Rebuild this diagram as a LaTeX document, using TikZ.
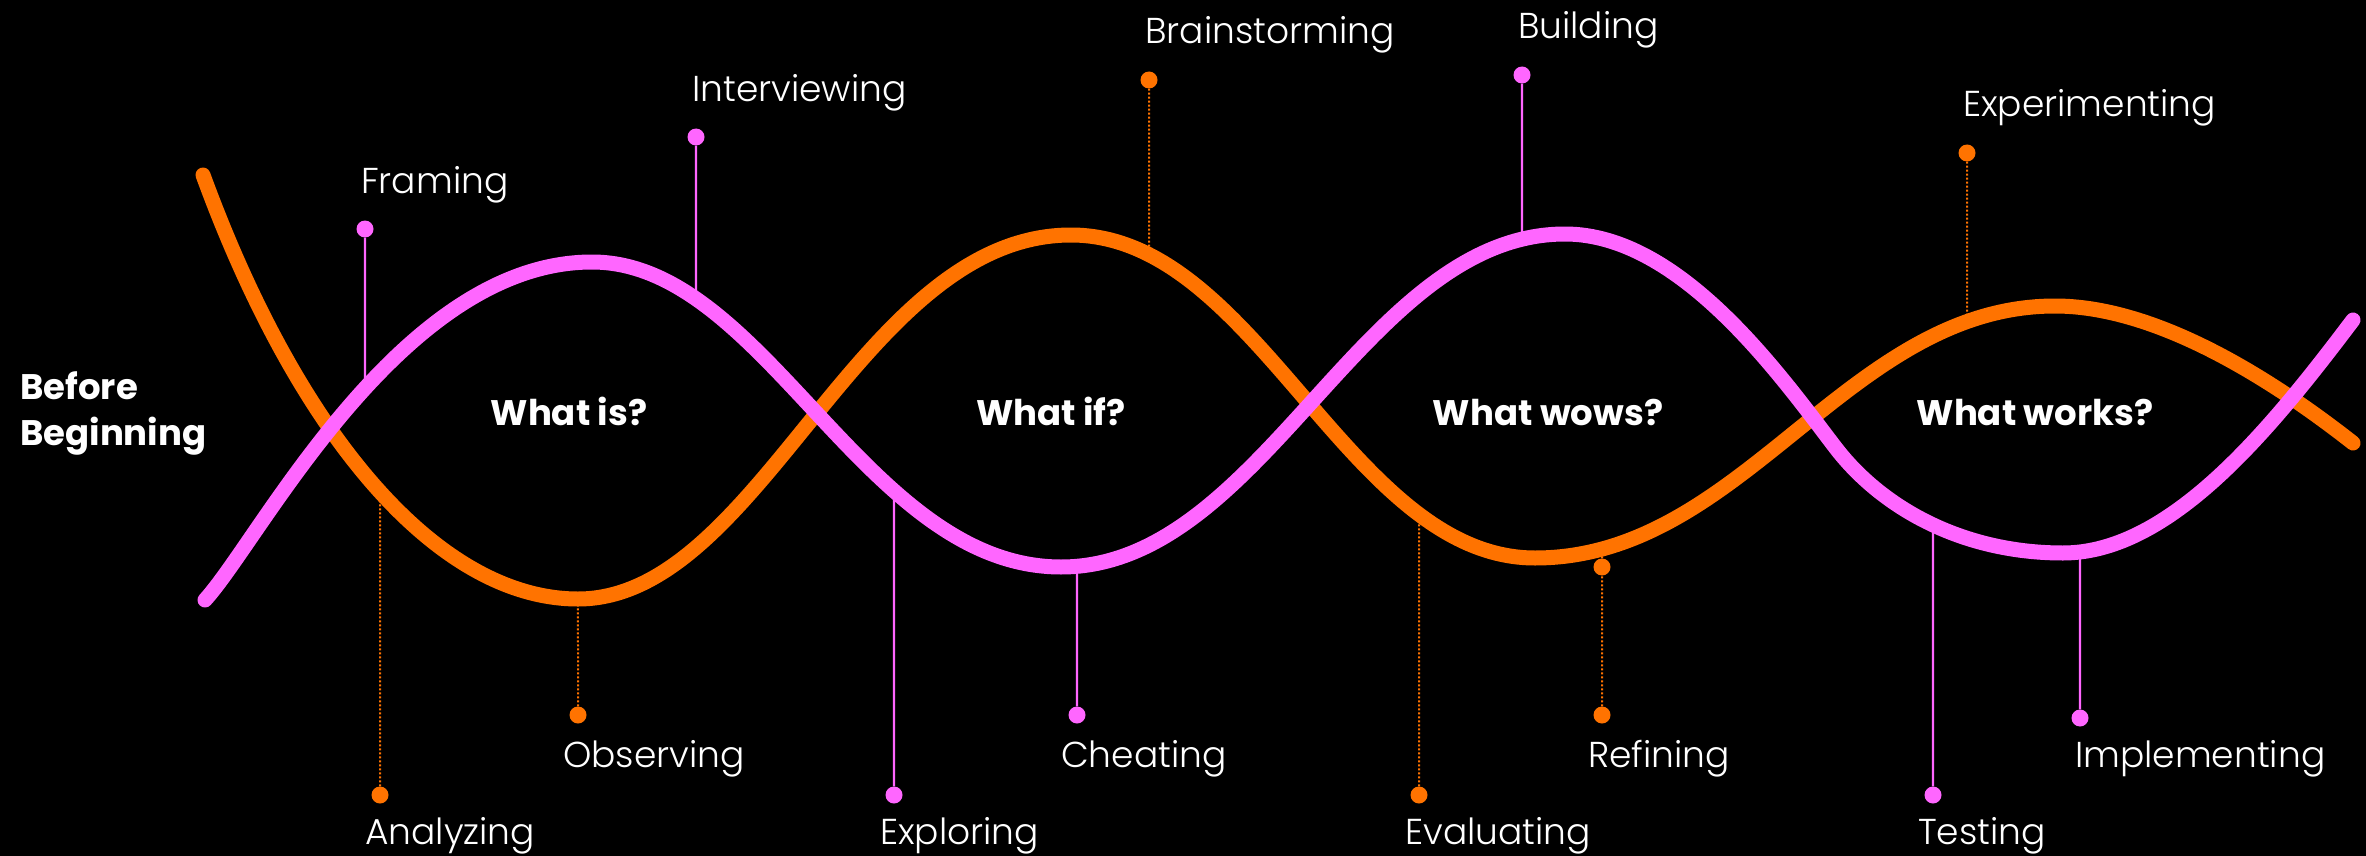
\documentclass[tikz,border=0pt]{standalone}
\usepackage{fontspec}
\usetikzlibrary{intersections}
\newfontfamily\lblfont{Poppins Light}
\newfontfamily\hdgfont{Poppins Bold}
\definecolor{orng}{HTML}{FF7300}
\definecolor{pnk}{HTML}{FF66FF}
\begin{document}
\begin{tikzpicture}[x=1pt,y=-1pt,
  lbl/.style={font=\lblfont\fontsize{36}{44}\selectfont, text=white, inner sep=0pt, anchor=base west},
  hdg/.style={font=\hdgfont\fontsize{35.5}{46}\selectfont, text=white, inner sep=0pt, anchor=base},
  pdot/.style={circle, fill=pnk, inner sep=0pt, minimum size=17pt},
  odot/.style={circle, fill=orng, inner sep=0pt, minimum size=17pt},
  pstem/.style={draw=pnk, line width=2.2pt},
  ostem/.style={draw=orng, line width=2pt, dash pattern=on 2pt off 2pt},
  wave/.style={line width=15pt, line cap=round}]
\fill[black] (0,0) rectangle (2366,856);
\useasboundingbox (0,0) rectangle (2366,856);
\def\orangecurve{(203,175) .. controls (300,440) and (440,599) .. (578,599)
  .. controls (760,599) and (860,235) .. (1071,235)
  .. controls (1257,235) and (1349,558) .. (1535,558)
  .. controls (1743,558) and (1847,306) .. (2055,306)
  .. controls (2150,306) and (2260,370) .. (2353,443)}
\def\pinkcurve{(205,600) .. controls (260,540) and (400,262) .. (592,262)
  .. controls (765,262) and (865,567) .. (1061,567)
  .. controls (1263,567) and (1363,234) .. (1565,234)
  .. controls (1680,234) and (1780,375) .. (1835,447)
  .. controls (1880,506) and (1960,553) .. (2063,553)
  .. controls (2170,553) and (2270,430) .. (2353,320)}
\path[name path global=orng] \orangecurve;
\path[name path global=pnk] \pinkcurve;
\foreach \nm/\xx/\cv in {fr/365/pnk, iv/696/pnk, bs/1149/orng, bu/1522/pnk, ex/1967/orng,
  an/380/orng, ob/578/orng, xp/894/pnk, ch/1077/pnk, ev/1419/orng, rf/1602/orng, ts/1933/pnk, im/2080/pnk}{
  \path[name path global=v\nm] (\xx,0) -- (\xx,856);
  \edef\doint{\noexpand\path[name intersections={of=\cv\space and v\nm, by=c\nm}];}
  \doint
}
% top labels
\node[pdot] (dfr) at (365,229) {};
\node[lbl] (tfr) at (361,193) {Framing};
\node[pdot] (div) at (696,137) {};
\node[lbl] (tiv) at (692,102) {Interviewing};
\node[odot] (dbs) at (1149,80) {};
\node[lbl] (tbs) at (1145,44) {Brainstorming};
\node[pdot] (dbu) at (1522,75) {};
\node[lbl] (tbu) at (1518,39) {Building};
\node[odot] (dex) at (1967,153) {};
\node[lbl] (tex) at (1963,117) {Experimenting};
% bottom labels
\node[odot] (dan) at (380,795) {};
\node[lbl] (tan) at (365,844) {Analyzing};
\node[odot] (dob) at (578,715) {};
\node[lbl] (tob) at (563,767) {Observing};
\node[pdot] (dxp) at (894,795) {};
\node[lbl] (txp) at (880,844) {Exploring};
\node[pdot] (dch) at (1077,715) {};
\node[lbl] (tch) at (1061,767) {Cheating};
\node[odot] (dev) at (1419,795) {};
\node[lbl] (tev) at (1405,844) {Evaluating};
\node[odot] (drf) at (1602,715) {};
\node[lbl] (trf) at (1588,767) {Refining};
\node[pdot] (dts) at (1933,795) {};
\node[lbl] (tts) at (1918,844) {Testing};
\node[pdot] (dim) at (2080,718) {};
\node[lbl] (tim) at (2075,767) {Implementing};
% stems
\draw[pstem] (dfr) -- (cfr);
\draw[pstem] (div) -- (civ);
\draw[ostem] (dbs) -- (cbs);
\draw[pstem] (dbu) -- (cbu);
\draw[ostem] (dex) -- (cex);
\draw[ostem] (dan) -- (can);
\draw[ostem] (dob) -- (cob);
\draw[pstem] (dxp) -- (cxp);
\draw[pstem] (dch) -- (cch);
\draw[ostem] (dev) -- (cev);
\draw[ostem] (drf) -- (crf);
\draw[pstem] (dts) -- (cts);
\draw[pstem] (dim) -- (cim);
% waves
\draw[wave, orng] \orangecurve;
\draw[wave, pnk] \pinkcurve;
\node[odot] (rfk) at (1602,567) {};
% headings
\node[hdg, anchor=base west, align=left] (bb) at (20,445) {Before\\Beginning};
\node[hdg] (h1) at (569,425) {What is?};
\node[hdg] (h2) at (1051,425) {What if?};
\node[hdg] (h3) at (1548,425) {What wows?};
\node[hdg] (h4) at (2035,425) {What works?};
\end{tikzpicture}
\end{document}
